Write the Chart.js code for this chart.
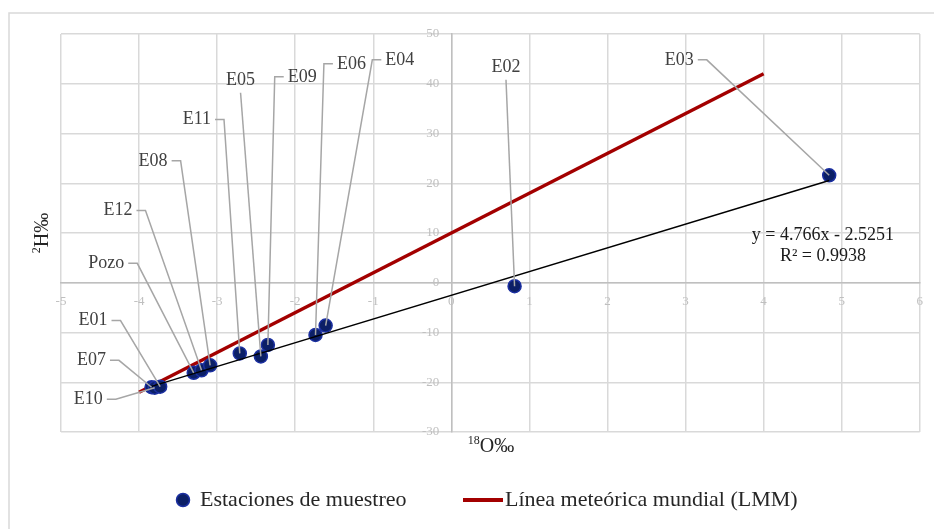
<!DOCTYPE html>
<html>
<head>
<meta charset="utf-8">
<script src="https://cdn.jsdelivr.net/npm/chart.js@4.4.1/dist/chart.umd.min.js"></script>
<style>
  html, body { margin: 0; padding: 0; background: #ffffff; }
  #wrap { width: 934px; height: 529px; position: relative; }
</style>
</head>
<body>
<div id="wrap"><canvas id="chart"></canvas></div>
<script>
// Sampling stations: δ18O and δ2H (‰)
const stations = ['E07', 'E10', 'E01', 'Pozo', 'E12', 'E08', 'E11', 'E05', 'E09', 'E06', 'E04', 'E02', 'E03'];
const o18      = [-3.84, -3.80, -3.73, -3.30, -3.20, -3.09, -2.71, -2.44, -2.35, -1.74, -1.61, 0.81, 4.84];
const h2       = [-21.0, -21.1, -20.9, -18.1, -17.6, -16.6, -14.2, -14.8, -12.5, -10.5, -8.6, -0.7, 21.6];

// Label anchors for each station, in axis units (δ18O, δ2H)
const labelO18 = [-4.61, -4.65, -4.59, -4.42, -4.27, -3.82, -3.26, -2.70, -1.91, -1.28, -0.66, 0.70, 2.92];
const labelH2  = [-15.6, -23.4, -7.6, 3.9, 14.5, 24.5, 32.8, 40.8, 41.4, 44.0, 44.8, 43.4, 44.8];
// Side of the label where its leader line starts
const leaderFrom = ['right', 'right', 'right', 'right', 'right', 'right', 'right', 'below', 'left', 'left', 'left', 'below', 'right'];

// Global meteoric water line (LMM) end points
const lmmO18 = [-4, 4];
const lmmH2  = [-22, 42];

// Linear fit of the stations
const fitSlope = 4.766;
const fitIntercept = -2.5251;
const fitR2 = 0.9938;
const fitO18 = [-3.84, 4.84];

// Axis ranges
const xRange = [-5, 6];
const yRange = [-30, 50];
const xStep = 1;
const yStep = 10;

const SERIF = '"Liberation Serif", "DejaVu Serif", serif';
const TICK_COLOR = '#bfbfbf';

const stationPoints = o18.map((x, i) => ({ x: x, y: h2[i] }));
const lmmPoints = lmmO18.map((x, i) => ({ x: x, y: lmmH2[i] }));
const fitPoints = fitO18.map(x => ({ x: x, y: fitSlope * x + fitIntercept }));

function drawSup(ctx, sup, main, x, y, mainSize, supSize) {
  ctx.font = supSize + 'px ' + SERIF;
  const ws = ctx.measureText(sup).width;
  ctx.font = mainSize + 'px ' + SERIF;
  const wm = ctx.measureText(main).width;
  const left = x - (ws + wm) / 2;
  ctx.textAlign = 'left';
  ctx.textBaseline = 'alphabetic';
  ctx.font = supSize + 'px ' + SERIF;
  ctx.fillText(sup, left, y - mainSize * 0.38);
  ctx.font = mainSize + 'px ' + SERIF;
  ctx.fillText(main, left + ws, y);
}

const decorations = {
  id: 'decorations',
  beforeDraw(chart) {
    const ctx = chart.ctx;
    ctx.save();
    ctx.fillStyle = '#ffffff';
    ctx.fillRect(0, 0, chart.width, chart.height);
    ctx.strokeStyle = '#d9d9d9';
    ctx.lineWidth = 1.5;
    ctx.beginPath();
    ctx.moveTo(9, chart.height + 2);
    ctx.lineTo(9, 13);
    ctx.lineTo(chart.width + 2, 13);
    ctx.stroke();
    ctx.restore();
  },
  beforeDatasetsDraw(chart) {
    // y tick labels, set to the left of the vertical axis at x = 0
    const ctx = chart.ctx;
    const xs = chart.scales.x, ys = chart.scales.y;
    const ax = xs.getPixelForValue(0);
    ctx.save();
    ctx.font = '13px ' + SERIF;
    ctx.fillStyle = TICK_COLOR;
    ctx.textAlign = 'right';
    ctx.textBaseline = 'middle';
    ys.ticks.forEach(t => {
      ctx.fillText(String(t.value), ax - 12, ys.getPixelForValue(t.value));
    });
    ctx.restore();
  },
  afterDatasetsDraw(chart) {
    const ctx = chart.ctx;
    const xs = chart.scales.x, ys = chart.scales.y;
    ctx.save();
    ctx.font = '18px ' + SERIF;
    ctx.textAlign = 'center';
    ctx.textBaseline = 'middle';
    stations.forEach((name, i) => {
      const px = xs.getPixelForValue(o18[i]);
      const py = ys.getPixelForValue(h2[i]);
      const tx = xs.getPixelForValue(labelO18[i]);
      const ty = ys.getPixelForValue(labelH2[i]);
      const w = ctx.measureText(name).width;
      ctx.strokeStyle = '#a6a6a6';
      ctx.lineWidth = 1.5;
      ctx.beginPath();
      if (leaderFrom[i] === 'right') {
        const x0 = tx + w / 2 + 4;
        ctx.moveTo(x0, ty);
        ctx.lineTo(x0 + 9, ty);
      } else if (leaderFrom[i] === 'left') {
        const x0 = tx - w / 2 - 4;
        ctx.moveTo(x0, ty);
        ctx.lineTo(x0 - 9, ty);
      } else {
        ctx.moveTo(tx, ty + 13);
      }
      ctx.lineTo(px, py);
      ctx.stroke();
      ctx.fillStyle = '#404040';
      ctx.fillText(name, tx, ty);
    });

    // Fit equation
    ctx.fillStyle = '#1a1a1a';
    ctx.font = '18px ' + SERIF;
    const ex = xs.getPixelForValue(4.76);
    const ey = ys.getPixelForValue(9.6);
    ctx.fillText('y = ' + fitSlope.toFixed(3) + 'x - ' + Math.abs(fitIntercept).toFixed(4), ex, ey);
    ctx.fillText('R² = ' + fitR2.toFixed(4), ex, ey + 21);
    ctx.restore();
  },
  afterDraw(chart) {
    const ctx = chart.ctx;
    ctx.save();
    ctx.fillStyle = '#262626';
    // x axis title
    drawSup(ctx, '18', 'O‰', 491, 452, 20, 12);
    // y axis title
    ctx.translate(48, 233);
    ctx.rotate(-Math.PI / 2);
    drawSup(ctx, '2', 'H‰', 0, 0, 20, 12);
    ctx.restore();

    // Legend
    const ds = chart.data.datasets;
    ctx.save();
    ctx.textBaseline = 'middle';
    ctx.textAlign = 'left';
    ctx.font = '22px ' + SERIF;
    ctx.fillStyle = ds[1].backgroundColor;
    ctx.strokeStyle = ds[1].borderColor;
    ctx.lineWidth = 1.5;
    ctx.beginPath();
    ctx.arc(183, 500, 6.5, 0, Math.PI * 2);
    ctx.fill();
    ctx.stroke();
    ctx.fillStyle = '#262626';
    ctx.fillText(ds[1].label, 200, 500);
    ctx.strokeStyle = ds[2].borderColor;
    ctx.lineWidth = 4;
    ctx.beginPath();
    ctx.moveTo(463, 500);
    ctx.lineTo(503, 500);
    ctx.stroke();
    ctx.fillText(ds[2].label, 505, 500);
    ctx.restore();
  }
};

new Chart(document.getElementById('chart'), {
  type: 'scatter',
  data: {
    datasets: [
      {
        label: 'Tendencia',
        type: 'line',
        data: fitPoints,
        borderColor: '#000000',
        borderWidth: 1.5,
        pointRadius: 0,
        fill: false,
        order: 0
      },
      {
        label: 'Estaciones de muestreo',
        data: stationPoints,
        backgroundColor: '#0b1f66',
        borderColor: '#1b2fa0',
        borderWidth: 1.5,
        pointRadius: 6.5,
        pointHoverRadius: 6.5,
        order: 1
      },
      {
        label: 'Línea meteórica mundial (LMM)',
        type: 'line',
        data: lmmPoints,
        borderColor: '#a30000',
        borderWidth: 3.5,
        pointRadius: 0,
        fill: false,
        order: 2
      }
    ]
  },
  options: {
    responsive: true,
    maintainAspectRatio: false,
    devicePixelRatio: 1,
    animation: false,
    layout: { padding: { left: 61, top: 34, right: 13, bottom: 97 } },
    plugins: {
      legend: { display: false },
      tooltip: { enabled: false }
    },
    scales: {
      x: {
        type: 'linear',
        min: xRange[0],
        max: xRange[1],
        position: { y: 0 },
        afterFit(scale) { scale.height = 0; },
        ticks: {
          stepSize: xStep,
          color: TICK_COLOR,
          padding: 11,
          font: { family: SERIF, size: 13 }
        },
        grid: { color: '#d9d9d9', lineWidth: 1.5, drawTicks: false },
        border: { display: true, color: '#bfbfbf', width: 1.5 }
      },
      y: {
        type: 'linear',
        min: yRange[0],
        max: yRange[1],
        position: { x: 0 },
        afterFit(scale) { scale.width = 0; },
        ticks: {
          display: false,
          stepSize: yStep
        },
        grid: { color: '#d9d9d9', lineWidth: 1.5, drawTicks: false },
        border: { display: true, color: '#bfbfbf', width: 1.5 }
      }
    }
  },
  plugins: [decorations]
});
</script>
</body>
</html>
